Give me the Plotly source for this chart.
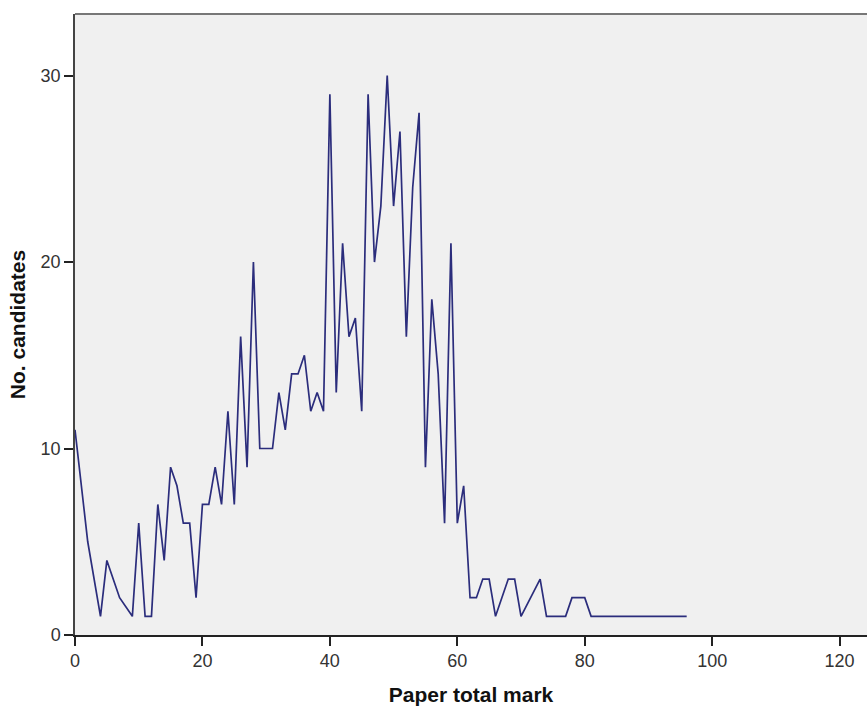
import plotly.graph_objects as go

# Paper total mark vs. number of candidates
marks = [0, 2, 4, 5, 7, 9, 10, 11, 12, 13, 14, 15, 16, 17, 18, 19, 20, 21, 22, 23,
         24, 25, 26, 27, 28, 29, 31, 32, 33, 34, 35, 36, 37, 38, 39, 40, 41, 42, 43,
         44, 45, 46, 47, 48, 49, 50, 51, 52, 53, 54, 55, 56, 57, 58, 59, 60, 61, 62,
         63, 64, 65, 66, 68, 69, 70, 73, 74, 77, 78, 80, 81, 96]
candidates = [11, 5, 1, 4, 2, 1, 6, 1, 1, 7, 4, 9, 8, 6, 6, 2, 7, 7, 9, 7,
              12, 7, 16, 9, 20, 10, 10, 13, 11, 14, 14, 15, 12, 13, 12, 29, 13, 21, 16,
              17, 12, 29, 20, 23, 30, 23, 27, 16, 24, 28, 9, 18, 14, 6, 21, 6, 8, 2,
              2, 3, 3, 1, 3, 3, 1, 3, 1, 1, 2, 2, 1, 1]

x_ticks = [0, 20, 40, 60, 80, 100, 120]
y_ticks = [0, 10, 20, 30]

fig = go.Figure()
fig.add_trace(go.Scatter(
    x=marks, y=candidates, mode="lines",
    line=dict(color="#2b2d7c", width=1.7),
    hoverinfo="x+y", showlegend=False,
))

tick_font = dict(family="Liberation Sans, Arial, sans-serif", size=18, color="#333333")
title_font = dict(family="Liberation Sans, Arial, sans-serif", size=21, color="#111111")

fig.update_layout(
    width=867, height=707,
    margin=dict(l=75, r=0, t=14, b=72),
    paper_bgcolor="white",
    plot_bgcolor="#f0f0f0",
    xaxis=dict(
        range=[0, 124.3], tickvals=x_ticks, ticktext=[str(v) for v in x_ticks],
        showgrid=False, zeroline=False, showline=True, linecolor="#222222", linewidth=1.5,
        ticks="outside", ticklen=9, tickwidth=1.5, tickcolor="#222222",
        tickfont=tick_font,
        title=dict(text="<b>Paper total mark</b>", font=title_font, standoff=17),
    ),
    yaxis=dict(
        range=[0, 33.3], tickvals=y_ticks, ticktext=[str(v) for v in y_ticks],
        showgrid=False, zeroline=False, showline=True, linecolor="#444444", linewidth=1.5,
        ticks="outside", ticklen=9, tickwidth=1.5, tickcolor="#222222",
        tickfont=tick_font,
        title=dict(text="<b>No. candidates</b>", font=title_font, standoff=9),
    ),
)

# top frame line of the plot area
fig.add_shape(type="line", xref="paper", yref="paper", x0=0, x1=1, y0=1, y1=1,
              line=dict(color="#777777", width=2))

fig.write_html("out.html")
